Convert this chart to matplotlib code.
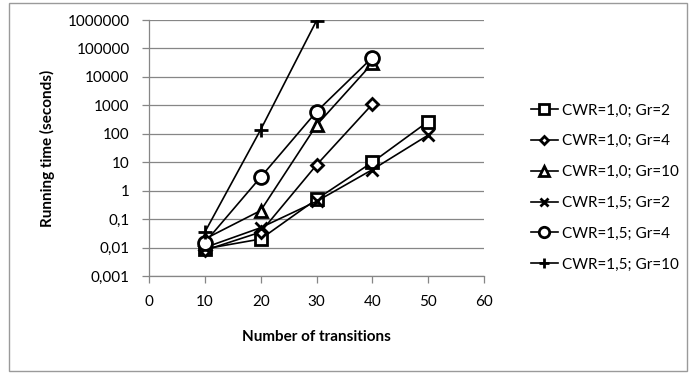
import matplotlib
matplotlib.use('Agg')
import matplotlib.pyplot as plt
from matplotlib.patches import Rectangle

plt.rcParams['font.family'] = ['Lato', 'DejaVu Sans']

transitions = [10, 20, 30, 40, 50]

cwr10_gr2 = [0.009, 0.02, 0.5, 10, 270]
cwr10_gr4 = [0.008, 0.035, 8, 1100]
cwr10_gr10 = [0.02, 0.2, 200, 30000]
cwr15_gr2 = [0.01, 0.05, 0.42, 5.5, 90]
cwr15_gr4 = [0.015, 3, 600, 48000]
cwr15_gr10 = [0.035, 140, 950000]

series_labels = ['CWR=1,0; Gr=2', 'CWR=1,0; Gr=4', 'CWR=1,0; Gr=10',
                 'CWR=1,5; Gr=2', 'CWR=1,5; Gr=4', 'CWR=1,5; Gr=10']

y_ticks = [0.001, 0.01, 0.1, 1, 10, 100, 1000, 10000, 100000, 1000000]
y_tick_labels = ['0,001', '0,01', '0,1', '1', '10', '100', '1000', '10000',
                 '100000', '1000000']
x_ticks = [0, 10, 20, 30, 40, 50, 60]

GRAY = '#868686'
FS = 11

fig = plt.figure(figsize=(6.89, 3.74), dpi=100)
fig.patches.append(Rectangle((0.013, 0.008), 0.984, 0.984, transform=fig.transFigure,
                             fill=False, edgecolor='#9a9a9a', linewidth=1.0))
ax = fig.add_axes([0.2163, 0.262, 0.4862, 0.6845])

styles = [
    (cwr10_gr2, 's', 9, 'white'),
    (cwr10_gr4, 'D', 6, 'white'),
    (cwr10_gr10, '^', 9, 'white'),
    (cwr15_gr2, 'x', 8, 'black'),
    (cwr15_gr4, 'o', 10, 'white'),
    (cwr15_gr10, '+', 10, 'black'),
]
for (vals, mk, ms, fc), lab in zip(styles, series_labels):
    ax.plot(transitions[:len(vals)], vals, color='black', linewidth=1.2,
            marker=mk, markersize=ms, markerfacecolor=fc,
            markeredgecolor='black', markeredgewidth=2, label=lab)

ax.set_yscale('log')
ax.set_ylim(0.001, 1000000)
ax.set_xlim(0, 60)
ax.set_yticks(y_ticks)
ax.set_yticklabels(y_tick_labels)
ax.minorticks_off()
ax.set_xticks(x_ticks)
ax.set_xticklabels([str(v) for v in x_ticks])

ax.grid(True, axis='y', color=GRAY, linewidth=0.9)
ax.set_axisbelow(True)
for side in ['top', 'right']:
    ax.spines[side].set_visible(False)
for side in ['left', 'bottom']:
    ax.spines[side].set_color(GRAY)
    ax.spines[side].set_linewidth(0.9)
ax.tick_params(axis='both', colors=GRAY, labelcolor='black', labelsize=FS,
               length=5, width=0.9, direction='out')
ax.tick_params(axis='x', pad=9)
ax.tick_params(axis='y', pad=9)

ax.set_xlabel('Number of transitions', fontsize=FS, fontweight='bold', labelpad=15)
ax.set_ylabel('Running time (seconds)', fontsize=FS, fontweight='bold', labelpad=9)

ax.legend(loc='center left', bbox_to_anchor=(0.7707, 0.4987),
          bbox_transform=fig.transFigure, borderaxespad=0, borderpad=0,
          frameon=False, fontsize=FS, handlelength=1.75, handletextpad=0.25,
          labelspacing=1.1, numpoints=1, markerscale=0.75)

fig.savefig('out.png', dpi=100)
